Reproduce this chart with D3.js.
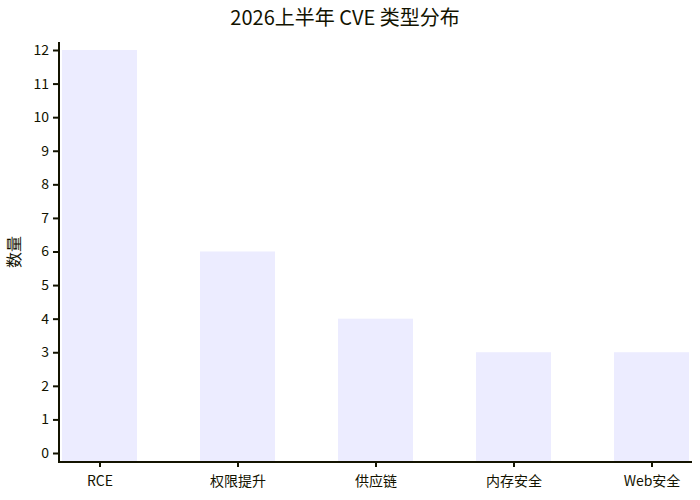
<!DOCTYPE html>
<html><head><meta charset="utf-8">
<script src="https://cdn.jsdelivr.net/npm/d3@7"></script>
<style>body{margin:0;background:#fff}</style>
</head><body>
<svg id="c" width="700" height="500"></svg>
<script>
const title = "2026上半年 CVE 类型分布";
const yTitle = "数量";
const categories = ["RCE", "权限提升", "供应链", "内存安全", "Web安全"];
const values = [12, 6, 4, 3, 3];
const yTicks = [0,1,2,3,4,5,6,7,8,9,10,11,12];

const font = "'Noto Sans CJK SC', sans-serif";
const axisColor = "#131300";
const textColor = "#131300";
const svg = d3.select("#c");

const x = d3.scalePoint().domain(categories).range([99.5, 651.5]);
const y = d3.scaleLinear().domain([0, 12]).range([453, 50]);
const barW = 75;

svg.append("text").attr("x", 345).attr("y", 25).attr("text-anchor", "middle")
  .attr("font-family", font).attr("font-size", 20).attr("fill", textColor).text(title);

svg.append("g").selectAll("rect").data(categories).join("rect")
  .attr("x", (d) => x(d) - barW/2)
  .attr("width", barW)
  .attr("y", (d, i) => y(values[i]))
  .attr("height", (d, i) => y(0) - y(values[i]) + 9)
  .attr("fill", "#ECECFF");

// y axis
const yAxis = d3.axisLeft(y).tickValues(yTicks).tickSize(5).tickPadding(4).tickSizeOuter(0);
const gy = svg.append("g").attr("transform", "translate(58,0)").call(yAxis);
gy.select(".domain").remove();
gy.selectAll(".tick line").attr("stroke", axisColor).attr("stroke-width", 2);
gy.selectAll(".tick text").attr("font-family", font).attr("font-size", 14).attr("fill", textColor);
svg.append("line").attr("x1", 59).attr("x2", 59).attr("y1", 42).attr("y2", 463)
  .attr("stroke", axisColor).attr("stroke-width", 2);

// x axis
const xAxis = d3.axisBottom(x).tickSize(5).tickPadding(9).tickSizeOuter(0);
const gx = svg.append("g").attr("transform", "translate(0,462)").call(xAxis);
gx.select(".domain").remove();
gx.selectAll(".tick line").attr("stroke", axisColor).attr("stroke-width", 2);
gx.selectAll(".tick text").attr("font-family", font).attr("font-size", 14).attr("fill", textColor);
svg.append("line").attr("x1", 58).attr("x2", 692).attr("y1", 462).attr("y2", 462)
  .attr("stroke", axisColor).attr("stroke-width", 2);

svg.append("text").attr("transform", "translate(16,252) rotate(-90)")
  .attr("text-anchor", "middle").attr("dominant-baseline", "middle")
  .attr("font-family", font).attr("font-size", 16)
  .attr("fill", textColor).text(yTitle);
</script>
</body></html>
